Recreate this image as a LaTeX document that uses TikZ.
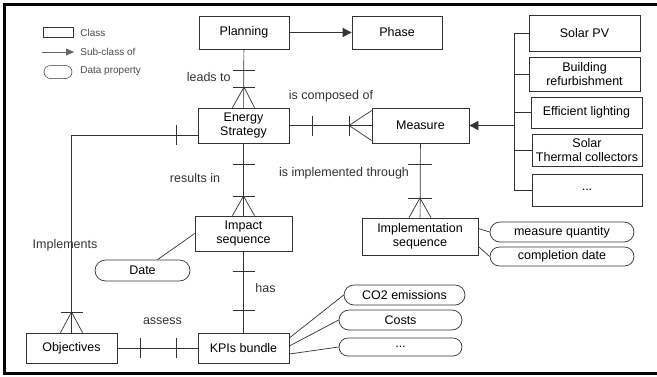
\documentclass[tikz,border=0pt]{standalone}
\usepackage{fontspec}
\setmainfont{Liberation Sans}
\usetikzlibrary{arrows.meta,shapes.misc}
\begin{document}
\begin{tikzpicture}[x=1pt,y=-1pt,line width=0.7pt,
  cls/.style={draw=black!80, rectangle, align=center, inner sep=1pt, font=\fontsize{12.5}{14}\selectfont},
  prop/.style={draw=black!80, rounded rectangle, inner sep=1pt, font=\fontsize{12.5}{14}\selectfont},
  lbl/.style={text=black!80, inner sep=0pt, font=\fontsize{12.5}{14}\selectfont},
  lgd/.style={text=black!70, anchor=west, inner sep=0pt, font=\fontsize{10}{12}\selectfont},
  conn/.style={draw=black!80},
  subarrow/.style={draw=black!80, -{Triangle[length=9pt,width=9pt]}}]
\useasboundingbox (0,0) rectangle (657,376);
\draw[line width=2.6pt] (657,4.5) -- (4.5,4.5) -- (4.5,373.5) -- (657,373.5);
\node[cls, minimum width=30, minimum height=10, line width=0.5pt] (lcls) at (58,32){};
\node[lgd] (lclstxt) at (80,33){Class};
\coordinate (lsubA) at (42,52);
\coordinate (lsubB) at (74,52);
\draw[subarrow, draw=black!60, line width=0.4pt, -{Triangle[length=8pt,width=7pt]}](lsubA) -- (lsubB);
\node[lgd] (lsubtxt) at (80,52){Sub-class of};
\node[prop, minimum width=30, minimum height=13, line width=0.5pt] (lprop) at (58,72){};
\node[lgd] (lproptxt) at (80,71){Data property};
\node[cls, minimum width=90, minimum height=33] (plan) at (244,32.5){Planning};
\node[cls, minimum width=90, minimum height=33] (phase) at (397,32.5){Phase};
\draw[subarrow](plan) -- (phase);
\node[cls, minimum width=91, minimum height=35] (es) at (243.5,125.5){Energy\\Strategy};
\node[cls, minimum width=97, minimum height=35] (measure) at (420.5,125.5){Measure};
\node[cls, minimum width=111, minimum height=36] (solarpv) at (584.5,33){Solar PV};
\node[cls, minimum width=111, minimum height=34] (building) at (584.5,74){Building\\refurbishment};
\node[cls, minimum width=111, minimum height=31] (lighting) at (586.5,112.5){Efficient lighting};
\node[cls, minimum width=110, minimum height=32] (thermal) at (587,150){Solar\\Thermal collectors};
\node[cls, minimum width=110, minimum height=32] (others) at (587,190){...};
\coordinate (busT) at (514,33);
\coordinate (busB) at (514,190);
\coordinate (busM) at (514,125.5);
\draw[conn](busT) -- (busB);
\draw[conn](busT) -- (solarpv.west);
\draw[conn](building.west -| busT) -- (building.west);
\draw[conn](lighting.west -| busT) -- (lighting.west);
\draw[conn](thermal.west -| busT) -- (thermal.west);
\draw[conn](busB) -- (others.west);
\draw[subarrow](busM) -- (measure.east);
\node[cls, minimum width=97, minimum height=35] (impact) at (243.5,233.5){Impact\\sequence};
\node[prop, minimum width=97, minimum height=21] (date) at (142.5,270.5){Date};
\draw[conn](impact.west) -- ([xshift=15pt]date.north);
\node[cls, minimum width=91, minimum height=30] (obj) at (71.5,348){Objectives};
\node[cls, minimum width=91, minimum height=30] (kpi) at (243.5,348){KPIs bundle};
\node[cls, minimum width=116, minimum height=37] (impl) at (420,236.5){Implementation\\sequence};
\node[prop, minimum width=146, minimum height=20] (mq) at (562,232){measure quantity};
\node[prop, minimum width=146, minimum height=19] (cd) at (562,256.5){completion date};
\draw[conn]([yshift=8pt]impl.east) -- (mq.west);
\draw[conn]([yshift=-10pt]impl.east) -- (cd.west);
\node[prop, minimum width=123, minimum height=20] (co2) at (404.5,295){CO2 emissions};
\node[prop, minimum width=125, minimum height=20] (costs) at (400.5,320){Costs};
\node[prop, minimum width=125, minimum height=18] (kdots) at (400.5,347){...};
\draw[conn]([yshift=10pt]kpi.east) -- (co2.west);
\draw[conn]([yshift=2pt]kpi.east) -- (costs.west);
\draw[conn]([yshift=-6pt]kpi.east) -- (kdots.west);
\draw[conn](plan) -- (es);
\coordinate (b1) at (244,70);
\coordinate (cf1) at (244,87);
\draw[conn]([xshift=-11pt]b1) -- ([xshift=11pt]b1);
\draw[conn]([xshift=-11pt]cf1) -- ([xshift=11pt]cf1);
\draw[conn]([xshift=-11pt]es.north) -- (cf1) -- ([xshift=11pt]es.north);
\node[lbl, anchor=east] (leads) at (231,77){leads to};
\draw[conn](es) -- (measure);
\coordinate (b2) at (312,125.5);
\coordinate (cf2) at (349,125.5);
\draw[conn]([yshift=10pt]b2) -- ([yshift=-10pt]b2);
\draw[conn]([yshift=10pt]cf2) -- ([yshift=-10pt]cf2);
\draw[conn]([yshift=15pt]measure.west) -- (cf2) -- ([yshift=-15pt]measure.west);
\node[lbl] (composed) at (331,96){is composed of};
\draw[conn](es) -- (impact);
\coordinate (b3) at (243.5,164);
\coordinate (cf3) at (243.5,196);
\draw[conn]([xshift=-11pt]b3) -- ([xshift=11pt]b3);
\draw[conn]([xshift=-11pt]cf3) -- ([xshift=11pt]cf3);
\draw[conn]([xshift=-11pt]impact.north) -- (cf3) -- ([xshift=11pt]impact.north);
\node[lbl] (results) at (195,178){results in};
\coordinate (esL) at (198,135);
\coordinate (corner) at (71.5,135);
\draw[conn](esL) -- (corner) -- (obj.north);
\coordinate (b4) at (176,135);
\coordinate (cf4) at (71.5,312);
\draw[conn]([yshift=10pt]b4) -- ([yshift=-10pt]b4);
\draw[conn]([xshift=-11pt]cf4) -- ([xshift=11pt]cf4);
\draw[conn]([xshift=-11pt]obj.north) -- (cf4) -- ([xshift=11pt]obj.north);
\node[lbl] (implements) at (65,245){Implements};
\draw[conn](measure) -- (impl);
\coordinate (b5) at (420,164);
\coordinate (cf5) at (420,198);
\draw[conn]([xshift=-12pt]b5) -- ([xshift=12pt]b5);
\draw[conn]([xshift=-12pt]cf5) -- ([xshift=12pt]cf5);
\draw[conn]([xshift=-11pt]impl.north) -- (cf5) -- ([xshift=11pt]impl.north);
\node[lbl] (through) at (344,173){is implemented through};
\draw[conn](impact) -- (kpi);
\coordinate (b6) at (243.5,271);
\coordinate (b7) at (243.5,310);
\draw[conn]([xshift=-11pt]b6) -- ([xshift=11pt]b6);
\draw[conn]([xshift=-11pt]b7) -- ([xshift=11pt]b7);
\node[lbl] (has) at (265.5,288){has};
\draw[conn](obj) -- (kpi);
\coordinate (b8) at (140,348);
\coordinate (b9) at (176,348);
\draw[conn]([yshift=10pt]b8) -- ([yshift=-10pt]b8);
\draw[conn]([yshift=10pt]b9) -- ([yshift=-10pt]b9);
\node[lbl] (assess) at (162.5,321){assess};
\end{tikzpicture}
\end{document}
